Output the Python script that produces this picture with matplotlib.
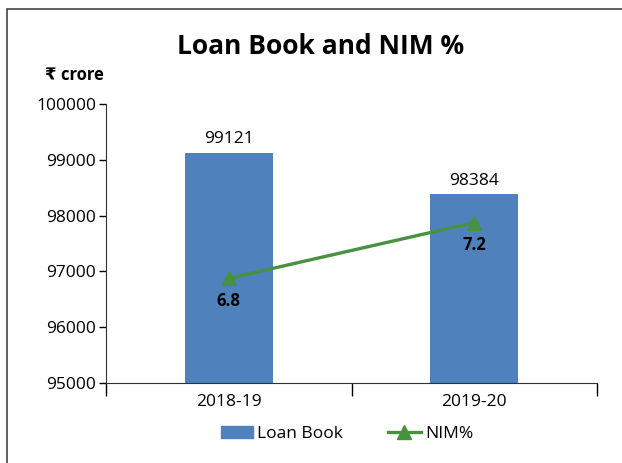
import matplotlib.pyplot as plt
from matplotlib.patches import Rectangle

plt.rcParams['font.family'] = ['Open Sans', 'DejaVu Sans']

years = ['2018-19', '2019-20']
loan_book = [99121, 98384]
nim = [6.8, 7.2]

bar_color = '#4F81BD'
line_color = '#47913F'

fig = plt.figure(figsize=(6.22, 4.63), dpi=100)
ax = fig.add_axes([106/622, 80/463, 491/622, 279/463])

x = range(len(years))
ax.bar(x, loan_book, width=0.36, color=bar_color, zorder=2)
for i, v in enumerate(loan_book):
    ax.annotate(str(v), (i, v), xytext=(0, 4), textcoords='offset points',
                ha='center', va='bottom', fontsize=12.5)

ax.set_ylim(95000, 100000)
ax.set_yticks(range(95000, 100001, 1000))
ax.set_xlim(-0.5, len(years) - 0.5)
ax.set_xticks([-0.5, 0.5, 1.5])
ax.set_xticklabels([])
ax.set_xticks(list(x), minor=True)
ax.set_xticklabels(years, minor=True)
ax.tick_params(axis='x', which='major', length=9, width=1)
ax.tick_params(axis='x', which='minor', length=0, pad=8, labelsize=12.5)
ax.tick_params(axis='y', length=5, width=1, pad=2, labelsize=12.5)
for s in ['top', 'right']:
    ax.spines[s].set_visible(False)
for s in ['left', 'bottom']:
    ax.spines[s].set_color('#333333')

ax2 = ax.twinx()
ax2.plot(list(x), nim, color=line_color, lw=2.4, marker='^', ms=10, zorder=3)
ax2.set_ylim(6.05, 8.05)
ax2.axis('off')
for i, v in enumerate(nim):
    ax2.annotate(str(v), (i, v), xytext=(0, -10), textcoords='offset points',
                 ha='center', va='top', fontsize=12, fontweight='bold')

fig.text(321/622, 1 - 46/463, 'Loan Book and NIM %', ha='center', va='center',
         fontsize=19, fontweight='bold')
fig.text(74/622, 1 - 75/463, '₹ crore', ha='center', va='center',
         fontsize=12, fontweight='bold')

h1 = Rectangle((0, 0), 1, 1, color=bar_color)
h2, = ax2.plot([], [], color=line_color, lw=2.4, marker='^', ms=10)
fig.legend([h1, h2], ['Loan Book', 'NIM%'], loc='center',
           bbox_to_anchor=(347/622, 1 - 434/463), ncol=2, frameon=False,
           fontsize=12.5, handlelength=1.85, columnspacing=2.6, handletextpad=0.25)

fig.add_artist(Rectangle((7/622, -0.1), 1.2, 1.1 - 9/463, transform=fig.transFigure,
                         fill=False, ec='#444444', lw=1.2))

fig.savefig('out.png', dpi=100)
